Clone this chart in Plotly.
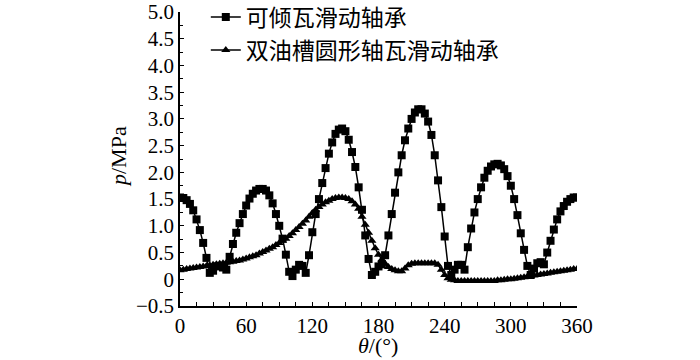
import plotly.graph_objects as go

theta = list(range(0, 361, 3))

# 可倾瓦滑动轴承 (squares)
p_tilting = [
    1.53, 1.52, 1.48, 1.41, 1.29, 1.12, 0.92, 0.68, 0.40, 0.12,   # 0-27
    0.16, 0.24, 0.25, 0.22, 0.18, 0.42, 0.66, 0.87, 1.05, 1.22,   # 30-57
    1.38, 1.51, 1.60, 1.66, 1.69, 1.69, 1.66, 1.57, 1.42, 1.22,   # 60-87
    1.00, 0.76, 0.46, 0.14, 0.06, 0.18, 0.27, 0.25, 0.12, 0.45,   # 90-117
    0.88, 1.22, 1.50, 1.80, 2.08, 2.35, 2.56, 2.72, 2.80, 2.82,   # 120-147
    2.77, 2.61, 2.38, 2.10, 1.72, 1.30, 0.82, 0.38, 0.08, 0.14,   # 150-177
    0.24, 0.28, 0.45, 0.82, 1.22, 1.62, 2.00, 2.32, 2.60, 2.82,   # 180-207
    3.00, 3.12, 3.18, 3.18, 3.10, 2.95, 2.70, 2.32, 1.85, 1.35,   # 210-237
    0.80, 0.25, 0.08, 0.18, 0.27, 0.27, 0.18, 0.60, 0.95, 1.25,   # 240-267
    1.50, 1.72, 1.90, 2.03, 2.11, 2.15, 2.16, 2.13, 2.06, 1.93,   # 270-297
    1.75, 1.50, 1.20, 0.86, 0.55, 0.25, 0.08, 0.20, 0.30, 0.32,   # 300-327
    0.28, 0.50, 0.72, 0.93, 1.12, 1.27, 1.37, 1.45, 1.50, 1.53,   # 330-357
    1.53,                                                          # 360
]

# 双油槽圆形轴瓦滑动轴承 (triangles)
p_groove = [
    0.17, 0.18, 0.19, 0.20, 0.21, 0.22, 0.23, 0.24, 0.25, 0.26,   # 0-27
    0.27, 0.28, 0.29, 0.30, 0.31, 0.32, 0.33, 0.34, 0.35, 0.37,   # 30-57
    0.39, 0.41, 0.43, 0.45, 0.48, 0.51, 0.54, 0.57, 0.60, 0.64,   # 60-87
    0.68, 0.72, 0.76, 0.81, 0.86, 0.92, 0.98, 1.04, 1.10, 1.17,   # 90-117
    1.24, 1.30, 1.35, 1.40, 1.44, 1.47, 1.50, 1.52, 1.53, 1.53,   # 120-147
    1.52, 1.50, 1.46, 1.40, 1.32, 1.17, 1.02, 0.87, 0.72, 0.58,   # 150-177
    0.46, 0.37, 0.29, 0.23, 0.19, 0.17, 0.15, 0.15, 0.20, 0.26,   # 180-207
    0.29, 0.30, 0.30, 0.30, 0.30, 0.30, 0.30, 0.30, 0.27, 0.18,   # 210-237
    0.08, 0.02, -0.01, -0.02, -0.03, -0.03, -0.03, -0.03, -0.03, -0.03,  # 240-267
    -0.03, -0.03, -0.03, -0.03, -0.03, -0.03, -0.02, -0.02, -0.01, 0.00,  # 270-297
    0.00, 0.01, 0.02, 0.03, 0.04, 0.05, 0.06, 0.07, 0.08, 0.09,   # 300-327
    0.10, 0.11, 0.12, 0.13, 0.14, 0.15, 0.16, 0.17, 0.18, 0.19,   # 330-357
    0.19,                                                          # 360
]

y_tickvals = [-0.5, 0, 0.5, 1.0, 1.5, 2.0, 2.5, 3.0, 3.5, 4.0, 4.5, 5.0]
y_ticktext = ["\u22120.5", "0", "0.5", "1.0", "1.5", "2.0", "2.5", "3.0", "3.5", "4.0", "4.5", "5.0"]
y_minor = [-0.25, 0.25, 0.75, 1.25, 1.75, 2.25, 2.75, 3.25, 3.75, 4.25, 4.75]
x_tickvals = [0, 60, 120, 180, 240, 300, 360]

serif = "Liberation Serif, Times New Roman, serif"
cjk = "Noto Sans CJK SC, sans-serif"

# plot-area geometry in pixels
L, R, T, B = 180, 123, 12, 54
W, H = 700, 360
PW, PH = W - L - R, H - T - B

fig = go.Figure()
fig.add_trace(go.Scatter(
    x=theta, y=p_tilting, mode="lines+markers", name="可倾瓦滑动轴承",
    line=dict(color="black", width=1.5),
    marker=dict(symbol="square", size=8, color="black"),
))
fig.add_trace(go.Scatter(
    x=theta, y=p_groove, mode="lines+markers", name="双油槽圆形轴瓦滑动轴承",
    line=dict(color="black", width=1.5),
    marker=dict(symbol="triangle-up", size=8, color="black"),
))

fig.update_layout(
    template="none",
    width=W, height=H,
    margin=dict(l=L, r=R, t=T, b=B, autoexpand=False),
    paper_bgcolor="white", plot_bgcolor="white",
    font=dict(family=serif, size=21, color="black"),
    showlegend=True,
    legend=dict(
        x=0.065, y=1.056, xanchor="left", yanchor="top",
        font=dict(family=cjk, size=23, color="black"),
        bgcolor="rgba(0,0,0,0)", borderwidth=0, itemwidth=30, tracegroupgap=0,
    ),
    xaxis=dict(
        range=[0, 360], tickvals=x_tickvals, showline=True, linecolor="black", linewidth=1.5,
        ticks="inside", ticklen=4, tickcolor="black", tickwidth=1,
        minor=dict(dtick=15, tick0=0, ticks="inside", ticklen=4, tickcolor="black", tickwidth=1),
        showgrid=False, zeroline=False, mirror=False, automargin=False,
        tickfont=dict(family=serif, size=21),
    ),
    yaxis=dict(
        range=[-0.5, 5.0], tickvals=y_tickvals, ticktext=y_ticktext,
        showline=True, linecolor="black", linewidth=1.5,
        ticks="inside", ticklen=4, tickcolor="black", tickwidth=1,
        minor=dict(tickvals=y_minor, ticks="inside", ticklen=3, tickcolor="black", tickwidth=1),
        showgrid=False, zeroline=False, mirror=False, automargin=False,
        tickfont=dict(family=serif, size=21),
    ),
    annotations=[
        dict(text="<i>p</i>/MPa", x=(118 - L) / PW, y=(H - B - 157) / PH,
             xref="paper", yref="paper", xanchor="center", yanchor="middle",
             showarrow=False, textangle=-90, font=dict(family=serif, size=22)),
        dict(text="<i>θ</i>/(°)", x=(378 - L) / PW, y=(H - B - 345) / PH,
             xref="paper", yref="paper", xanchor="center", yanchor="middle",
             showarrow=False, font=dict(family=serif, size=22)),
    ],
)

fig.write_html("out.html", config={"displayModeBar": False},
               post_script="document.body.style.margin='0';")
